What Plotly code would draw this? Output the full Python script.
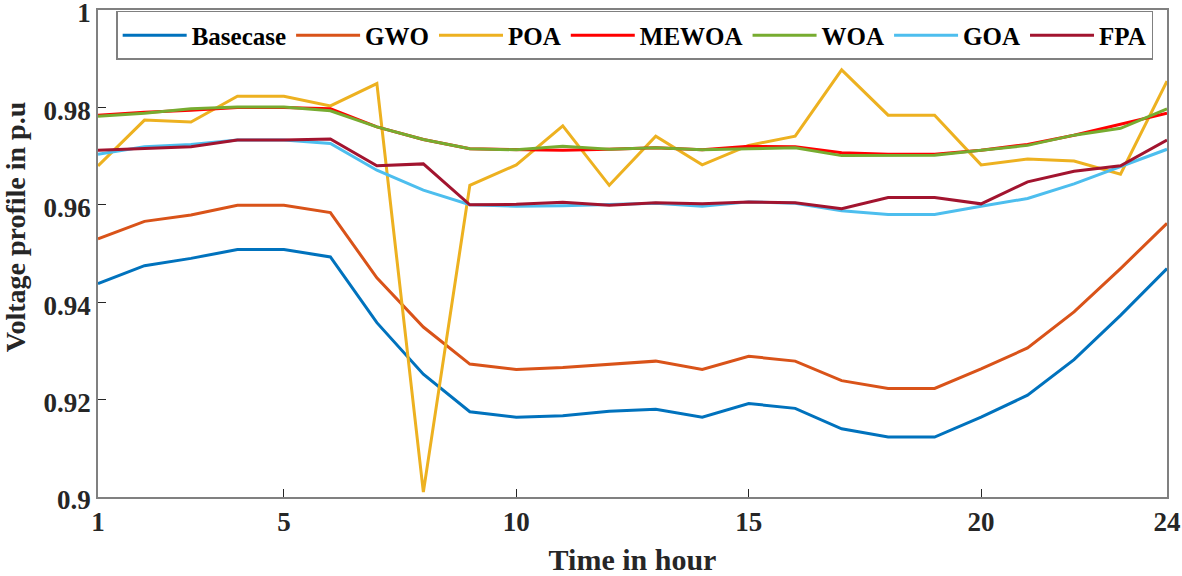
import plotly.graph_objects as go

hours = list(range(1, 25))

basecase = [0.9438, 0.9475, 0.9490, 0.9508, 0.9508, 0.9493, 0.9358, 0.9252, 0.9175, 0.9164,
            0.9167, 0.9176, 0.9180, 0.9164, 0.9192, 0.9182, 0.9140, 0.9123, 0.9123, 0.9164,
            0.9209, 0.9282, 0.9373, 0.9469]
gwo = [0.9530, 0.9566, 0.9579, 0.9599, 0.9599, 0.9584, 0.9450, 0.9349, 0.9273, 0.9262,
       0.9266, 0.9273, 0.9279, 0.9262, 0.9289, 0.9279, 0.9239, 0.9223, 0.9223, 0.9263,
       0.9306, 0.9380, 0.9469, 0.9562]
poa = [0.9680, 0.9774, 0.9770, 0.9823, 0.9823, 0.9803, 0.9849, 0.9010, 0.9640, 0.9682,
       0.9762, 0.9640, 0.9741, 0.9682, 0.9722, 0.9741, 0.9877, 0.9784, 0.9784, 0.9682,
       0.9694, 0.9690, 0.9663, 0.9854]
mewoa = [0.9784, 0.9790, 0.9794, 0.9800, 0.9800, 0.9797, 0.9760, 0.9734, 0.9715, 0.9713,
         0.9712, 0.9714, 0.9717, 0.9713, 0.9720, 0.9719, 0.9707, 0.9704, 0.9704, 0.9712,
         0.9724, 0.9743, 0.9766, 0.9788]
woa = [0.9782, 0.9788, 0.9797, 0.9801, 0.9801, 0.9793, 0.9760, 0.9734, 0.9715, 0.9713,
       0.9720, 0.9714, 0.9717, 0.9713, 0.9715, 0.9717, 0.9701, 0.9702, 0.9702, 0.9712,
       0.9722, 0.9743, 0.9757, 0.9797]
goa = [0.9704, 0.9719, 0.9724, 0.9733, 0.9733, 0.9726, 0.9671, 0.9630, 0.9600, 0.9597,
       0.9598, 0.9601, 0.9603, 0.9597, 0.9606, 0.9603, 0.9588, 0.9580, 0.9580, 0.9597,
       0.9613, 0.9643, 0.9678, 0.9714]
fpa = [0.9712, 0.9715, 0.9719, 0.9733, 0.9733, 0.9735, 0.9680, 0.9684, 0.9600, 0.9601,
       0.9605, 0.9599, 0.9604, 0.9602, 0.9606, 0.9604, 0.9592, 0.9615, 0.9615, 0.9602,
       0.9647, 0.9669, 0.9680, 0.9733]

series = [
    ("Basecase", basecase, "#0072BD"),
    ("GWO", gwo, "#D95319"),
    ("POA", poa, "#EDB120"),
    ("MEWOA", mewoa, "#FF0000"),
    ("WOA", woa, "#77AC30"),
    ("GOA", goa, "#4DBEEE"),
    ("FPA", fpa, "#A2142F"),
]

x_ticks = [1, 5, 10, 15, 20, 24]
y_ticks = [0.9, 0.92, 0.94, 0.96, 0.98, 1.0]
y_labels = ["0.9", "0.92", "0.94", "0.96", "0.98", "1"]

fig = go.Figure()
for name, vals, col in series:
    fig.add_trace(go.Scatter(x=hours, y=vals, mode="lines", name=name,
                             line=dict(color=col, width=3)))

font_family = "Liberation Serif"
axis_col = "#808080"
txt_col = "#262626"

# y title placed by hand (it sits a bit above centre in the original)
fig.add_annotation(
    text="Voltage profile in p.u",
    xref="paper", yref="paper",
    x=-0.0776, y=0.554,
    xanchor="center", yanchor="middle",
    textangle=-90, showarrow=False,
    font=dict(family=font_family, size=28, color=txt_col, weight="bold"),
)

fig.update_layout(
    width=1182,
    height=576,
    margin=dict(l=98, r=15, t=10, b=79),
    plot_bgcolor="white",
    paper_bgcolor="white",
    font=dict(family=font_family, color=txt_col, size=26),
    legend=dict(
        orientation="h",
        x=0.017, y=0.998,
        xanchor="left", yanchor="top",
        bgcolor="white",
        bordercolor=axis_col,
        borderwidth=1.5,
        font=dict(family=font_family, size=25, color="black", weight="bold"),
        itemwidth=64,
        tracegroupgap=0,
    ),
    xaxis=dict(
        range=[1, 24],
        tickvals=x_ticks,
        ticks="inside",
        ticklen=8,
        tickcolor=txt_col,
        ticklabeloverflow="allow",
        automargin=False,
        showgrid=False,
        zeroline=False,
        showline=True,
        linecolor=axis_col,
        linewidth=1.5,
        mirror=True,
        tickfont=dict(family=font_family, size=27, color=txt_col, weight="bold"),
        title=dict(text="Time in hour", standoff=17,
                   font=dict(family=font_family, size=30, color=txt_col, weight="bold")),
    ),
    yaxis=dict(
        range=[0.9, 1.0],
        tickvals=y_ticks,
        ticktext=y_labels,
        ticks="inside",
        ticklen=8,
        tickcolor=txt_col,
        ticklabeloverflow="allow",
        ticklabelshift=3,
        automargin=False,
        showgrid=False,
        zeroline=False,
        showline=True,
        linecolor=axis_col,
        linewidth=1.5,
        mirror=True,
        tickfont=dict(family=font_family, size=27, color=txt_col, weight="bold"),
    ),
)

fig.write_html("out.html", config={"displayModeBar": False},
               post_script="document.body.style.margin='0px';")
